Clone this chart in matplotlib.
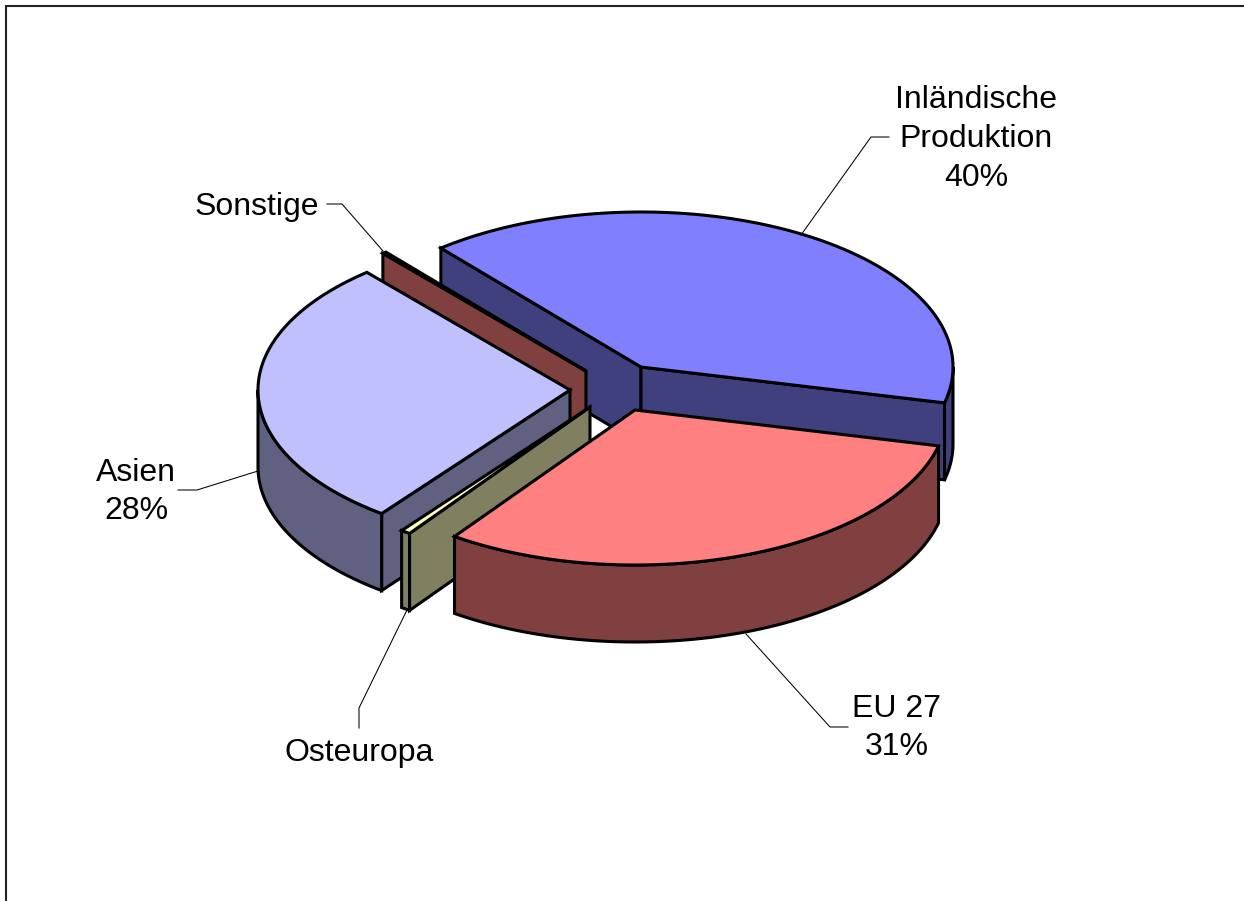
from matplotlib import pyplot as plt
from matplotlib.patches import Polygon

import numpy as np

plt.rcParams['font.family'] = ['Liberation Sans', 'DejaVu Sans']

# shares in clockwise order, first slice starts at START_ANGLE
names = ["Inländische\nProduktion\n40%", "EU 27\n31%", "Osteuropa", "Asien\n28%", "Sonstige"]
values = [39.8, 31.1, 0.5, 28.4, 0.2]
top_colors = ["#8080FF", "#FF8080", "#FFFFC0", "#C0C0FF", "#FF8080"]
side_colors = ["#40407F", "#804040", "#808060", "#606080", "#804040"]

# pixel layout of the exploded pie
centers = [(641, 367), (635, 410), (590, 407), (570, 390), (586, 371)]
label_pos = [(976, 139), (897, 728), (359, 753), (136, 492), (257, 207)]
leaders = [
    [(801, 235), (871, 137), (889, 137)],
    [(746, 634), (830, 727), (848, 727)],
    [(407, 610), (359, 708), (359, 728)],
    [(258, 471), (197, 490), (178, 490)],
    [(383, 251), (342, 204), (327, 204)],
]
draw_order = [0, 4, 3, 2, 1]

START_ANGLE = 129.9
RX = 312
RY = 155
DEPTH = 77
EDGE = 2.2


def arc(center, a1, a2):
    n = max(2, int(abs(a2 - a1)) * 2)
    t = np.radians(np.linspace(a1, a2, n))
    return np.column_stack((center[0] + RX * np.cos(t), center[1] - RY * np.sin(t)))


def draw_slice(ax, center, a1, a2, top, side):
    # a1 > a2, going clockwise
    down = np.array([0, DEPTH])
    c = np.array(center, dtype=float)

    # radial walls, only those turned to the viewer
    for ang, sign in ((a1, -1), (a2, 1)):
        p = arc(center, ang, ang + 1)[0]
        edge = p - c
        normal = np.array([-edge[1], edge[0]]) * sign
        if normal[1] > 0:
            ax.add_patch(Polygon([c, p, p + down, c + down], fc=side, ec="black", lw=EDGE))

    # outer wall, the part on the lower half of the ellipse
    for lo, hi in ((-180, 0), (-540, -360)):
        s1 = min(a1, hi)
        s2 = max(a2, lo)
        if s1 > s2:
            pts = arc(center, s1, s2)
            ax.add_patch(Polygon(np.vstack((pts, pts[::-1] + down)), fc=side, ec="black", lw=EDGE))

    ax.add_patch(Polygon(np.vstack((c, arc(center, a1, a2))), fc=top, ec="black", lw=EDGE))


fig = plt.figure(figsize=(12.44, 9.01), dpi=100)
ax = fig.add_axes([0, 0, 1, 1])
ax.set_xlim(0, 1244)
ax.set_ylim(901, 0)
ax.axis("off")

# chart frame, cut off at right and bottom
ax.plot([6, 6, 1244], [901, 6, 6], color="#222222", lw=1.5, solid_joinstyle="miter")

bounds = START_ANGLE - np.cumsum([0] + values) * 3.6

for i in draw_order:
    draw_slice(ax, centers[i], bounds[i], bounds[i + 1], top_colors[i], side_colors[i])

for line in leaders:
    xs, ys = zip(*line)
    ax.plot(xs, ys, color="black", lw=0.75)

for name, pos in zip(names, label_pos):
    ax.text(pos[0], pos[1], name, ha="center", va="center", fontsize=23, linespacing=1.37, color="black")

fig.savefig("out.png", dpi=100)
